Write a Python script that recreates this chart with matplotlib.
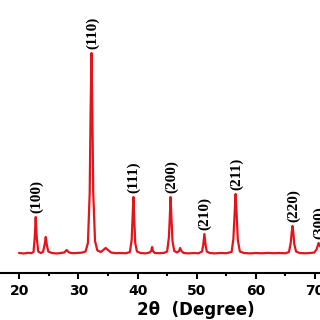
import matplotlib
matplotlib.use("Agg")
import matplotlib.pyplot as plt

# XRD pattern, intensity (a.u.)
two_theta = [20.0, 20.8, 21.5, 22.0, 22.4, 22.6, 22.77, 22.95, 23.2, 23.6, 24.0, 24.3, 24.47, 24.65, 24.9,
             25.5, 26.3, 27.0, 27.6, 28.0, 28.4, 29.0, 29.8, 30.6, 31.2, 31.6, 31.9, 32.05, 32.2, 32.35,
             32.5, 32.8, 33.2, 33.8, 34.3, 34.6, 35.0, 35.5, 36.3, 37.2, 38.0, 38.7, 39.0, 39.15, 39.29,
             39.43, 39.6, 39.9, 40.5, 41.3, 42.0, 42.3, 42.45, 42.6, 42.9, 43.7, 44.5, 45.0, 45.3, 45.45,
             45.58, 45.72, 45.9, 46.2, 46.7, 47.0, 47.2, 47.4, 47.8, 48.6, 49.5, 50.3, 50.9, 51.1, 51.3,
             51.5, 51.7, 52.2, 53.0, 54.0, 55.0, 55.9, 56.2, 56.4, 56.58, 56.76, 56.95, 57.3, 58.0, 59.0,
             60.0, 61.0, 62.0, 63.0, 64.0, 65.0, 65.6, 65.9, 66.05, 66.2, 66.35, 66.5, 66.8, 67.4, 68.3,
             69.2, 69.9, 70.3, 70.6, 70.85]
intensity = [100, 95, 102, 98, 110, 250, 460, 250, 115, 100, 110, 190, 260, 180, 115,
             100, 95, 100, 105, 130, 105, 98, 100, 104, 115, 200, 700, 1500, 2100, 1500,
             700, 220, 125, 110, 135, 150, 130, 105, 98, 100, 97, 110, 230, 450, 660,
             450, 200, 115, 100, 96, 104, 120, 160, 120, 100, 98, 102, 115, 260, 460,
             660, 460, 220, 120, 105, 120, 150, 120, 100, 96, 100, 97, 115, 180, 290,
             180, 115, 100, 96, 100, 98, 110, 240, 480, 690, 480, 230, 115, 100, 96,
             100, 97, 101, 98, 100, 97, 110, 200, 300, 370, 300, 190, 115, 100, 97,
             100, 105, 140, 200, 170]

peak_labels = ["(100)", "(110)", "(111)", "(200)", "(210)", "(211)", "(220)", "(300)"]
peak_pos = [22.77, 32.2, 39.29, 45.58, 51.3, 56.58, 66.2, 70.6]
peak_int = [460, 2100, 660, 660, 290, 690, 370, 200]

x_ticks = [20, 30, 40, 50, 60, 70]

fig = plt.figure(figsize=(3.2, 3.2), dpi=100)
ax = fig.add_axes([0.0, 47 / 320, 1.0, 273 / 320])
ax.plot(two_theta, intensity, color="#e5131b", lw=1.6)
ax.set_xlim(16.73, 70.85)
ax.set_ylim(-100, 2630)

for lab, xp, yp in zip(peak_labels, peak_pos, peak_int):
    ax.annotate(lab, (xp, yp), xytext=(0.5, 3), textcoords="offset points",
                rotation=90, ha="center", va="bottom",
                fontsize=11, family="Liberation Serif", fontweight="bold", color="black",
                annotation_clip=False)

for s in ["left", "right", "top"]:
    ax.spines[s].set_visible(False)
ax.spines["bottom"].set_linewidth(1.5)
ax.set_yticks([])
ax.set_xticks(x_ticks)
ax.set_xticks([25, 35, 45, 55, 65], minor=True)
ax.tick_params(axis="x", which="major", direction="out", length=4, width=1.5, pad=4,
               labelsize=10)
ax.tick_params(axis="x", which="minor", direction="out", length=2.5, width=1.5)
for t in ax.get_xticklabels():
    t.set_fontweight("bold")

fig.text(196 / 320, 10 / 320, "2θ  (Degree)", ha="center", va="center",
         fontsize=12, fontweight="bold")

fig.savefig("out.png", dpi=100)
